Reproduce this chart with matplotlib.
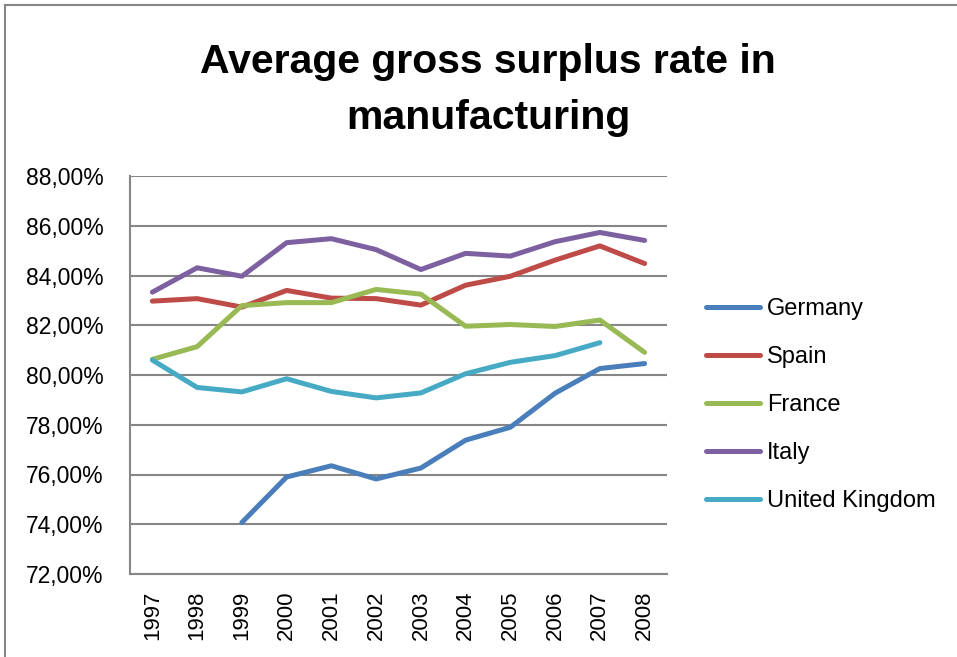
import matplotlib
matplotlib.use("Agg")
import matplotlib.pyplot as plt
from matplotlib.lines import Line2D
from matplotlib.ticker import FuncFormatter
import numpy as np

years = ["1997", "1998", "1999", "2000", "2001", "2002", "2003", "2004", "2005", "2006", "2007", "2008"]
germany = [None, None, 74.07, 75.90, 76.35, 75.82, 76.26, 77.38, 77.90, 79.27, 80.26, 80.46]
spain = [82.97, 83.07, 82.73, 83.40, 83.09, 83.07, 82.81, 83.61, 83.97, 84.62, 85.19, 84.48]
france = [80.63, 81.14, 82.79, 82.91, 82.91, 83.44, 83.25, 81.96, 82.03, 81.95, 82.21, 80.91]
italy = [83.33, 84.31, 83.97, 85.32, 85.48, 85.04, 84.24, 84.89, 84.78, 85.36, 85.73, 85.41]
uk = [80.60, 79.50, 79.32, 79.85, 79.34, 79.08, 79.28, 80.05, 80.51, 80.78, 81.30, None]
series_names = ["Germany", "Spain", "France", "Italy", "United Kingdom"]
colors = ["#4A7EBB", "#BE4B48", "#98B954", "#7D60A0", "#46AAC5"]
title_lines = ["Average gross surplus rate in", "manufacturing"]

plt.rcParams['font.family'] = ['Liberation Sans', 'DejaVu Sans']

W, H = 957, 657
fig = plt.figure(figsize=(W / 100, H / 100), dpi=100)
fig.patch.set_facecolor("white")

# chart-area frame (left and top edges visible)
fig.add_artist(Line2D([5 / W, 5 / W], [0, 1 - 5 / H], color="#868686", lw=1.5, transform=fig.transFigure))
fig.add_artist(Line2D([5 / W, 1], [1 - 5 / H, 1 - 5 / H], color="#868686", lw=1.5, transform=fig.transFigure))

left, right, top, bottom = 130 / W, 667 / W, 1 - 176 / H, 1 - 574 / H
ax = fig.add_axes([left, bottom, right - left, top - bottom])

x = np.arange(len(years))
all_series = [germany, spain, france, italy, uk]
handles = []
for name, vals, c in zip(series_names, all_series, colors):
    y = np.array([np.nan if v is None else v for v in vals], dtype=float)
    h, = ax.plot(x, y, color=c, lw=3.6, solid_capstyle="round", solid_joinstyle="round", label=name, zorder=3)
    handles.append(h)

ax.set_xlim(-0.5, len(years) - 0.5)
ax.set_ylim(72, 88)
ax.set_yticks(np.arange(72, 88.1, 2))
ax.yaxis.set_major_formatter(FuncFormatter(lambda v, p: f"{v:.2f}".replace(".", ",") + "%"))
ax.set_xticks(x)
ax.set_xticklabels(years, rotation=90, fontsize=16)
ax.tick_params(axis="x", length=0, pad=12)
ax.tick_params(axis="y", length=0, pad=19, labelsize=16.5)
ax.grid(axis="y", color="#868686", lw=1.5, zorder=1)
for s in ["top", "right"]:
    ax.spines[s].set_visible(False)
for s in ["left", "bottom"]:
    ax.spines[s].set_color("#868686")
    ax.spines[s].set_linewidth(1.5)

fig.text(488 / W, 1 - 73 / H, title_lines[0], ha="center", va="baseline", fontsize=29.5, fontweight="bold")
fig.text(488 / W, 1 - 129 / H, title_lines[1], ha="center", va="baseline", fontsize=29.5, fontweight="bold")

leg = fig.legend(handles=handles, loc="upper left", bbox_to_anchor=(706 / W, 1 - 298 / H),
                 frameon=False, fontsize=17, handlelength=2.3, handletextpad=0.27, labelspacing=1.1,
                 borderpad=0, borderaxespad=0)

fig.savefig("out.png", dpi=100, facecolor="white")
